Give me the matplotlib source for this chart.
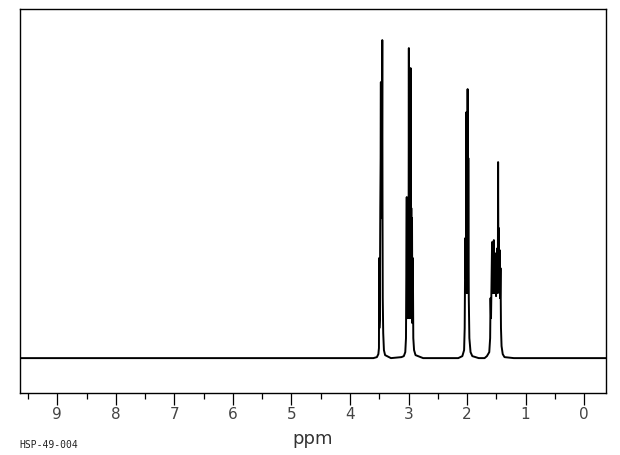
import numpy as np
import matplotlib
matplotlib.use("Agg")
import matplotlib.pyplot as plt
from matplotlib.ticker import MultipleLocator

# Spectrum trace (ppm, intensity in arbitrary units)
# baseline ends
base_left_ppm = [9.70, 3.60]
base_left_int = [0, 0]

# multiplet at ~3.46
m1_ppm = [3.54, 3.515, 3.505, 3.502, 3.498, 3.490, 3.482, 3.476, 3.472, 3.469, 3.467,
          3.465, 3.463, 3.461, 3.459, 3.456, 3.448, 3.444, 3.440, 3.432, 3.420, 3.40]
m1_int = [1, 4, 10, 100, 30, 40, 150, 200, 276, 150, 203,
          150, 203, 150, 203, 140, 318, 150, 60, 25, 8, 3]

base_mid1_ppm = [3.30, 3.12]
base_mid1_int = [0, 1]

# multiplet at ~2.98
m2_ppm = [3.08, 3.055, 3.043, 3.036, 3.030, 3.024, 3.018, 3.012, 3.006, 3.000, 2.994,
          2.988, 2.982, 2.976, 2.970, 2.964, 2.958, 2.952, 2.946, 2.940, 2.934, 2.926,
          2.918, 2.905, 2.88]
m2_int = [2, 6, 20, 100, 161, 40, 158, 40, 155, 45, 310,
          40, 150, 40, 150, 290, 40, 150, 40, 140, 35, 100,
          20, 8, 3]

base_mid2_ppm = [2.75, 2.15]
base_mid2_int = [0, 0]

# doublet at ~2.00
m3_ppm = [2.08, 2.05, 2.040, 2.030, 2.020, 2.010, 2.004, 1.998, 1.994, 1.990, 1.984,
          1.978, 1.970, 1.960, 1.940, 1.910]
m3_int = [2, 8, 30, 120, 80, 246, 65, 246, 70, 269, 65,
          200, 60, 20, 6, 2]

base_mid3_ppm = [1.80, 1.70]
base_mid3_int = [0, 0]

# multiplet at ~1.50
m4_ppm = [1.66, 1.62, 1.605, 1.598, 1.590, 1.572, 1.565, 1.556, 1.550, 1.542, 1.536,
          1.528, 1.520, 1.512, 1.504, 1.496, 1.488, 1.480, 1.474, 1.469, 1.463, 1.456,
          1.450, 1.442, 1.436, 1.428, 1.420, 1.410, 1.390, 1.360]
m4_int = [2, 6, 20, 60, 40, 116, 65, 110, 65, 118, 65,
          105, 65, 100, 62, 105, 65, 110, 70, 196, 70, 130,
          65, 108, 60, 90, 30, 12, 4, 1]

base_right_ppm = [1.20, -0.45]
base_right_int = [0, 0]

ppm = np.concatenate([base_left_ppm, m1_ppm, base_mid1_ppm, m2_ppm, base_mid2_ppm,
                      m3_ppm, base_mid3_ppm, m4_ppm, base_right_ppm])
intensity = np.concatenate([base_left_int, m1_int, base_mid1_int, m2_int, base_mid2_int,
                            m3_int, base_mid3_int, m4_int, base_right_int])

tick_vals = [9, 8, 7, 6, 5, 4, 3, 2, 1, 0]

fig = plt.figure(figsize=(6.2, 4.55), dpi=100)
ax = fig.add_axes([0.033, 0.136, 0.944, 0.844])

ax.plot(ppm, intensity, color='black', lw=1.4)

ax.set_xlim(9.63, -0.37)
ax.set_ylim(-35, 349)

ax.set_xticks(tick_vals)
ax.set_xticklabels([str(t) for t in tick_vals])
ax.xaxis.set_minor_locator(MultipleLocator(0.5))
ax.tick_params(axis='x', which='major', direction='out', length=8.5, width=0.9,
               pad=1.5, labelsize=11, labelcolor='#444444')
ax.tick_params(axis='x', which='minor', direction='out', length=4.5, width=0.9)
ax.set_yticks([])

for s in ax.spines.values():
    s.set_linewidth(1.0)

ax.set_xlabel('ppm', fontsize=13, color='#333333', labelpad=6)
fig.text(0.032, 0.022, 'HSP-49-004', fontsize=7, family='DejaVu Sans Mono',
         color='#222222', ha='left', va='center')

fig.savefig('out.png', dpi=100)
